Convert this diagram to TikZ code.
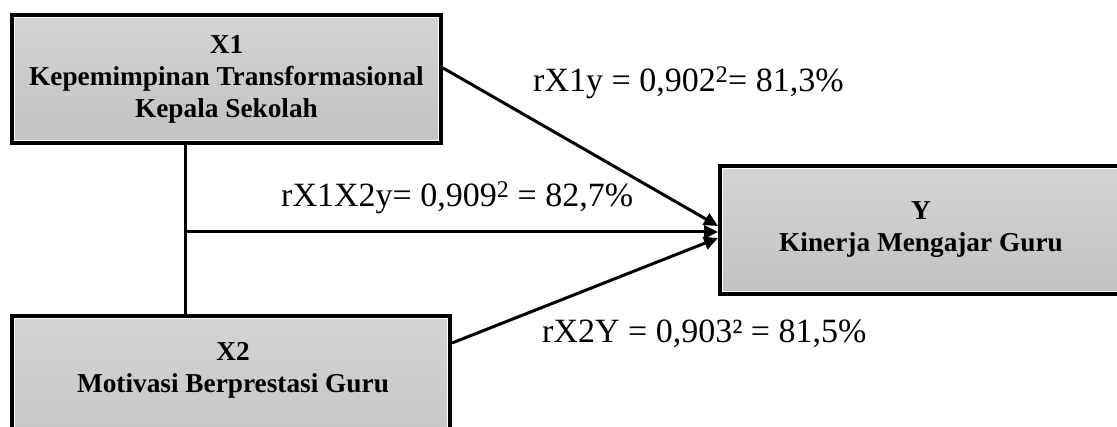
\documentclass[tikz,border=0pt]{standalone}
\usepackage{fontspec}
\setmainfont{Liberation Serif}
\usetikzlibrary{arrows.meta,calc}
\definecolor{boxtop}{RGB}{212,212,212}
\definecolor{boxbot}{RGB}{194,194,194}
\begin{document}
\begin{tikzpicture}[x=1pt,y=-1pt,
  box/.style={draw=black, line width=4pt, top color=boxtop, bottom color=boxbot,
    rectangle, anchor=north west, inner sep=0pt},
  boxtext/.style={font=\fontsize{27.3}{32}\selectfont\bfseries, align=center},
  lbl/.style={font=\fontsize{34}{38}\selectfont, anchor=base west, inner sep=0pt},
  conn/.style={line width=3pt},
  arr/.style={conn, -{Triangle[length=14pt,width=13pt]}},
  innerline/.style={draw=white, line width=1.2pt}]
\useasboundingbox (0,0) rectangle (1117,427);
\clip (0,0) rectangle (1117,427);
% boxes
\node[box, boxtext, minimum width=429pt, minimum height=128pt] (x1) at (10,13)
  {X1\\Kepemimpinan Transformasional\\Kepala Sekolah};
\draw[innerline] ([shift={(4.8,4.8)}]x1.north west) rectangle ([shift={(-4.8,-4.8)}]x1.south east);
\node[box, minimum width=438pt, minimum height=160pt] (x2) at (10,314) {};
\draw[innerline] ([shift={(4.8,4.8)}]x2.north west) rectangle ([shift={(-4.8,-4.8)}]x2.south east);
\node[boxtext] (x2t) at (233,370) {X2\\Motivasi Berprestasi Guru};
\node[box, boxtext, minimum width=402pt, minimum height=128pt] (y) at (718,164)
  {Y\\Kinerja Mengajar Guru};
\draw[innerline] ([shift={(4.8,4.8)}]y.north west) rectangle ([shift={(-4.8,-4.8)}]y.south east);
% connectors
\coordinate (j) at (185,232);
\draw[conn] (x1.south -| j) -- (x2.north -| j);
\draw[arr] (j) -- (y.west |- j);
\draw[arr] ([yshift=11pt]x1.east) -- ([yshift=4pt]y.west);
\draw[arr] ([yshift=-29pt]x2.north east) -- ([yshift=-8pt]y.west);
% labels
\node[lbl] (l1) at (533,92) {rX1y = 0,902\textsuperscript{2}= 81,3\%};
\node[lbl] (l2) at (281,207) {rX1X2y= 0,909\textsuperscript{2} = 82,7\%};
\node[lbl] (l3) at (542,343) {rX2Y = 0,903² = 81,5\%};
\end{tikzpicture}
\end{document}
